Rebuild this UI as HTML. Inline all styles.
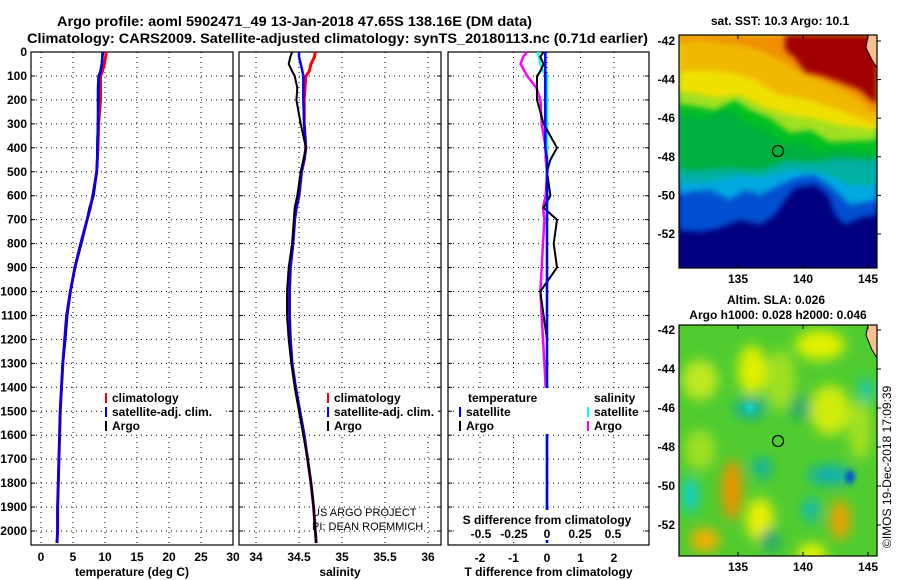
<!DOCTYPE html>
<html><head><meta charset="utf-8"><style>
body{margin:0;background:#fff;}
svg{display:block;font-family:"Liberation Sans",sans-serif;font-weight:bold;}
</style></head><body>
<svg id="s" width="900" height="580" viewBox="0 0 900 580">
<defs>
<filter id="bl" x="-50%" y="-50%" width="200%" height="200%"><feGaussianBlur stdDeviation="6"/></filter>
<filter id="bl2" x="-50%" y="-50%" width="200%" height="200%"><feGaussianBlur stdDeviation="3"/></filter>
<clipPath id="c1"><rect x="679" y="35" width="198" height="233"/></clipPath>
<clipPath id="c2"><rect x="679" y="325" width="198" height="231"/></clipPath>
</defs>
<text x="57" y="26" font-size="14" textLength="475" lengthAdjust="spacingAndGlyphs">Argo profile: aoml 5902471_49 13-Jan-2018 47.65S 138.16E (DM data)</text>
<text x="27" y="43" font-size="14" textLength="621" lengthAdjust="spacingAndGlyphs">Climatology: CARS2009. Satellite-adjusted climatology: synTS_20180113.nc (0.71d earlier)</text>
<g id="g"></g>

<!-- SST map -->
<g clip-path="url(#c1)">
<rect x="679" y="35" width="198" height="233" fill="#000080"/>
<path d="M679,35H877V215L860,218L845,225L835,215L828,195L815,185L795,188L785,200L775,215L760,225L740,220L720,228L700,232L679,230Z" fill="#0050d0" filter="url(#bl2)"/>
<path d="M679,35H877V200L850,205L835,190L815,175L795,178L780,185L760,195L745,190L730,200L710,190L690,192L679,195Z" fill="#00a8e0" filter="url(#bl2)"/>
<path d="M679,35H877V185L850,185L820,172L790,170L760,178L740,175L720,180L700,182L679,183Z" fill="#00b0a0" filter="url(#bl2)"/>
<path d="M679,35H877V160L840,158L810,162L790,160L760,170L730,168L700,170L679,170Z" fill="#00b040" filter="url(#bl2)"/>
<path d="M679,35H877V155L840,148L815,152L800,140L785,145L765,130L745,122L725,108L705,118L679,115Z" fill="#00c020" filter="url(#bl2)"/>
<path d="M679,35H877V140L830,142L810,130L790,133L770,118L750,110L735,100L715,110L690,105L679,105Z" fill="#a0e020" filter="url(#bl2)"/>
<path d="M679,35H877V130L840,125L810,118L790,115L765,108L740,95L715,98L690,92L679,92Z" fill="#f0e000" filter="url(#bl2)"/>
<path d="M679,35H877V125L840,110L810,100L780,95L755,80L730,72L700,70L679,72Z" fill="#f0b800" filter="url(#bl2)"/>
<path d="M679,35H877V115L860,100L840,88L820,80L800,72L780,60L760,50L740,45L700,40L679,42Z" fill="#f09000" filter="url(#bl2)"/>
<path d="M785,35H877V105L860,90L840,82L820,75L805,72L795,58L785,50Z" fill="#a00000" filter="url(#bl2)"/>
<path d="M868,35H877V68L872,60L866,48Z" fill="#f8c090" stroke="#000" stroke-width="1"/>
<circle cx="778" cy="151" r="5.5" fill="none" stroke="#000" stroke-width="1.2"/>
</g>
<!-- SLA map -->
<g clip-path="url(#c2)">
<rect x="679" y="325" width="198" height="231" fill="#50cc30"/>
<g filter="url(#bl)">
<ellipse cx="700" cy="380" rx="18" ry="20" fill="#c0e820"/>
<ellipse cx="752" cy="370" rx="14" ry="25" fill="#e0f000"/>
<ellipse cx="820" cy="345" rx="25" ry="15" fill="#e0f000"/>
<ellipse cx="830" cy="410" rx="20" ry="25" fill="#d0ec10"/>
<ellipse cx="780" cy="380" rx="15" ry="30" fill="#a0e020"/>
<ellipse cx="860" cy="430" rx="12" ry="30" fill="#a0e020"/>
<ellipse cx="700" cy="450" rx="15" ry="20" fill="#a0e020"/>
<ellipse cx="732" cy="490" rx="10" ry="30" fill="#f09000"/>
<ellipse cx="840" cy="520" rx="10" ry="20" fill="#f0a000"/>
<ellipse cx="705" cy="540" rx="15" ry="12" fill="#f0b000"/>
<ellipse cx="760" cy="520" rx="14" ry="22" fill="#e8f000"/>
<ellipse cx="812" cy="555" rx="15" ry="12" fill="#e0f000"/>
<ellipse cx="690" cy="495" rx="8" ry="18" fill="#10d0d0"/>
<ellipse cx="750" cy="408" rx="16" ry="10" fill="#10b0a0"/>
<ellipse cx="762" cy="468" rx="10" ry="10" fill="#10b0a0"/>
<ellipse cx="830" cy="475" rx="22" ry="10" fill="#10b0b0"/>
<ellipse cx="811" cy="510" rx="8" ry="12" fill="#10b8b8"/>
<ellipse cx="866" cy="390" rx="6" ry="12" fill="#10c8c8"/>
<ellipse cx="800" cy="408" rx="10" ry="12" fill="#20a870"/>
<ellipse cx="770" cy="540" rx="10" ry="12" fill="#20a870"/>
</g>
<ellipse cx="750" cy="408" rx="4" ry="4" fill="#20e0e0" filter="url(#bl2)"/>
<ellipse cx="850" cy="477" rx="4" ry="7" fill="#0040e0" filter="url(#bl2)"/>
<path d="M868,325H877V358L872,350L866,335Z" fill="#f8c090" stroke="#000" stroke-width="1"/>
<circle cx="778" cy="441" r="5.5" fill="none" stroke="#000" stroke-width="1.2"/>
</g>
<text x="780" y="25" font-size="12" text-anchor="middle">sat. SST: 10.3 Argo: 10.1</text>
<text x="776" y="304" font-size="12" text-anchor="middle">Altim. SLA: 0.026</text>
<text x="778" y="319" font-size="12" text-anchor="middle">Argo h1000: 0.028 h2000: 0.046</text>
<text transform="translate(891,548) rotate(-90)" font-size="12" font-weight="normal">©IMOS 19-Dec-2018 17:09:39</text>
<text x="312" y="516" font-size="11" font-weight="normal">US ARGO PROJECT</text>
<text x="312" y="530" font-size="11" font-weight="normal">PI: DEAN ROEMMICH</text>
</svg>
<script>
const depths=[0,20,50,80,100,150,200,300,400,450,500,600,650,700,800,900,1000,1100,1200,1300,1400,1500,1600,1700,1800,1900,2000,2050];
const tArgo=[9.7,9.6,9.5,9.3,9.0,8.9,8.9,8.9,8.8,8.8,8.7,8.2,7.6,7.2,6.3,5.3,4.6,4.1,3.8,3.4,3.2,3.0,2.9,2.8,2.7,2.6,2.6,2.5];
const tClim=[10.2,10.1,9.9,9.6,9.3,9.3,9.3,9.0,8.9,8.8,8.7,8.1,7.7,7.2,6.2,5.3,4.6,4.0,3.7,3.4,3.2,3.0,2.9,2.8,2.7,2.6,2.6,2.5];
const tSat=[9.6,9.6,9.5,9.3,9.1,9.0,9.0,8.9,8.8,8.8,8.7,8.1,7.7,7.2,6.2,5.3,4.6,4.0,3.7,3.4,3.2,3.0,2.9,2.8,2.7,2.6,2.6,2.5];
const sArgo=[34.42,34.40,34.38,34.42,34.45,34.48,34.47,34.52,34.58,34.55,34.52,34.48,34.45,34.44,34.42,34.38,34.36,34.36,34.38,34.41,34.45,34.5,34.55,34.6,34.64,34.67,34.69,34.70];
const sClim=[34.69,34.68,34.64,34.62,34.58,34.57,34.56,34.56,34.58,34.56,34.53,34.5,34.47,34.45,34.43,34.40,34.39,34.39,34.40,34.42,34.46,34.51,34.56,34.6,34.64,34.67,34.69,34.70];
const sSat=[34.5,34.5,34.52,34.54,34.55,34.55,34.55,34.56,34.58,34.56,34.53,34.5,34.47,34.45,34.43,34.40,34.39,34.39,34.40,34.42,34.46,34.51,34.56,34.6,34.64,34.67,34.69,34.70];
const tDiffArgo=[-0.1,-0.2,-0.1,-0.2,-0.3,-0.3,-0.3,-0.1,0.3,0.1,0.0,0.1,-0.1,0.3,0.2,0.3,-0.2,-0.1,0.0,0.0,0.0,0.0,0.0,0.0,0.0,0.0,0.0,0.0];
const tDiffSat=[-0.05,-0.05,-0.05,-0.05,-0.05,-0.05,-0.05,-0.05,-0.05,0,0,0,0,0,0,0,0,0,0,0,0,0,0,0,0,0,0,0];
const sDiffSat=[-0.07,-0.06,-0.05,-0.03,0,0,0,0,0,0,0,0,0,0,0,0,0,0,0,0,0,0,0,0,0,0,0,0];
const sDiffArgo=[-0.15,-0.18,-0.2,-0.17,-0.15,-0.08,-0.05,-0.04,-0.01,-0.01,0,-0.01,-0.03,-0.02,-0.03,-0.04,-0.05,-0.04,-0.03,-0.02,-0.01,-0.01,0,0,0,0,0,0];
const depthTicks=[0,100,200,300,400,500,600,700,800,900,1000,1100,1200,1300,1400,1500,1600,1700,1800,1900,2000];
const tTicks=[0,5,10,15,20,25,30];
const sTicks=[34,34.5,35,35.5,36];
const sTickLabels=["34","34.5","35","35.5","36"];
const dTTicks=[-2,-1,0,1,2];
const dSTicks=[-0.5,-0.25,0,0.25,0.5];
const dSTickLabels=["-0.5","-0.25","0","0.25","0.5"];

const NS="http://www.w3.org/2000/svg";
const G=document.getElementById('g');
const Y=d=>52+d*0.2395;
function el(t,a,p){const e=document.createElementNS(NS,t);for(const k in a)e.setAttribute(k,a[k]);(p||G).appendChild(e);return e;}
function txt(x,y,s,sz,anc,p){const e=el('text',{x:x,y:y,'font-size':sz,'text-anchor':anc||'middle'},p);e.textContent=s;return e;}
const panels=[
 {x0:31,x1:233,X:v=>41+v*6.4,ticks:tTicks,labels:tTicks.map(String),title:'temperature (deg C)',name:'temperature-panel'},
 {x0:239,x1:441,X:v=>256+(v-34)*86,ticks:sTicks,labels:sTickLabels,title:'salinity',name:'salinity-panel'},
 {x0:448,x1:649,X:v=>547+v*33.5,ticks:dTTicks,labels:dTTicks.map(String),title:'T difference from climatology',name:'difference-panel'}
];
panels.forEach((p,i)=>{
 const g=el('g',{});
 
 
 p.ticks.forEach(v=>{const x=p.X(v);el('line',{x1:x,x2:x,y1:52,y2:545,stroke:'#000','stroke-dasharray':'1,4','stroke-width':1},g);
  const t=txt(x,i==2?562:561,p.labels[p.ticks.indexOf(v)],12,'middle',g);
  });
 depthTicks.forEach(d=>{const y=Y(d);el('line',{x1:p.x0,x2:p.x1,y1:y,y2:y,stroke:'#000','stroke-dasharray':'1,4'},g);
  el('line',{x1:p.x0,x2:p.x0+4,y1:y,y2:y,stroke:'#000'},g);el('line',{x1:p.x1-4,x2:p.x1,y1:y,y2:y,stroke:'#000'},g);
  if(i==0){const t=txt(27,y+4,String(d),12,'end',g);}});
 el('rect',{x:p.x0,y:52,width:p.x1-p.x0,height:493,fill:'none',stroke:'#000','stroke-width':1.2},g);
 const tt=txt((p.x0+p.x1)/2,576,p.title,12,'middle',g);
 
 p.g=g;
});
function line(arr,X,col,w,name,g){const pts=arr.map((v,k)=>X(v).toFixed(1)+','+Y(depths[k]).toFixed(1)).join(' ');
 const e=el('polyline',{points:pts,fill:'none',stroke:col,'stroke-width':w},g);
 
 }
const P=panels;
line(tClim,P[0].X,'#f00',3,'temp-climatology-line',P[0].g);
line(tArgo,P[0].X,'#000',2.5,'temp-argo-line',P[0].g);
line(tSat,P[0].X,'#00f',2.5,'temp-satellite-line',P[0].g);
line(sClim,P[1].X,'#f00',3,'sal-climatology-line',P[1].g);
line(sSat,P[1].X,'#00f',2.5,'sal-satellite-line',P[1].g);
line(sArgo,P[1].X,'#000',2,'sal-argo-line',P[1].g);
const XS=v=>547+v*132;
line(sDiffArgo,XS,'#f0f',2.5,'sal-diff-argo-line',P[2].g);
line(sDiffSat,XS,'#0ff',2.5,'sal-diff-satellite-line',P[2].g);
line(tDiffArgo,P[2].X,'#000',2,'temp-diff-argo-line',P[2].g);
line(tDiffSat,P[2].X,'#00f',2.5,'temp-diff-satellite-line',P[2].g);
// S diff axis
const sg=el('g',{});


el('rect',{x:456,y:510,width:184,height:30,fill:'#fff'},sg);
txt(547,524,'S difference from climatology',12,'middle',sg);
dSTicks.forEach((v,k)=>txt(XS(v),538,dSTickLabels[k],12,'middle',sg));
// legends
function legend(x,y,items,g){items.forEach((it,k)=>{el('line',{x1:x,x2:x,y1:y+k*14-9,y2:y+k*14+1,stroke:it[1],'stroke-width':2},g);txt(x+6,y+k*14,it[0],12,'start',g);});}
[[P[0],106],[P[1],328]].forEach(([p,x])=>{const lg=el('g',{});
 
 
 el('rect',{x:x-2,y:388,width:p===P[0]?118:112,height:46,fill:'#fff'},lg);
 legend(x,402,[['climatology','#f00'],['satellite-adj. clim.','#00f'],['Argo','#000']],lg);});
const l3=el('g',{});


el('rect',{x:455,y:388,width:185,height:46,fill:'#fff'},l3);
txt(468,402,'temperature',12,'start',l3);txt(594,402,'salinity',12,'start',l3);
legend(460,416,[['satellite','#00f'],['Argo','#000']],l3);
legend(588,416,[['satellite','#0ff'],['Argo','#f0f']],l3);
// map axes
const lonTicks=[135,140,145];const latTicks=[-42,-44,-46,-48,-50,-52];
[[35,268,41,234],[325,556,330,525]].forEach(([t,b,l0,l1],m)=>{
 const mg=el('g',{},document.getElementById('s'));
 
 
 el('rect',{x:679,y:t,width:198,height:b-t,fill:'none',stroke:'#000','stroke-width':1.2},mg);
 const LX=v=>738+(v-135)*13;
 lonTicks.forEach(v=>{el('line',{x1:LX(v),x2:LX(v),y1:t,y2:t+4,stroke:'#000'},mg);el('line',{x1:LX(v),x2:LX(v),y1:b-4,y2:b,stroke:'#000'},mg);txt(LX(v),b+15,String(v),12,'middle',mg);});
 latTicks.forEach(v=>{const y=l0+(-42-v)*(l1-l0)/10;el('line',{x1:877,x2:881,y1:y,y2:y,stroke:'#000'},mg);txt(675,y+4,String(v),12,'end',mg);});
});
</script>
</body></html>
